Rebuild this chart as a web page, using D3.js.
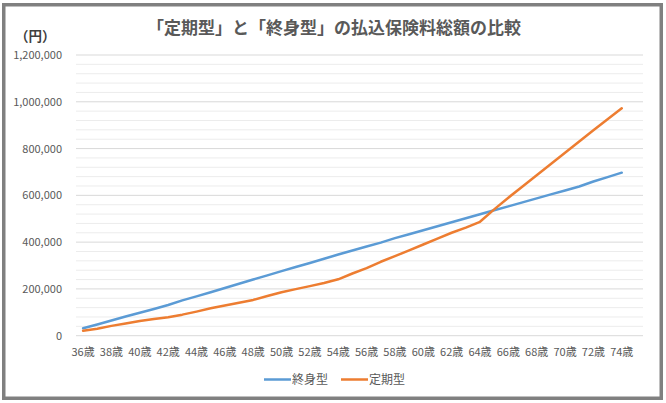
<!DOCTYPE html>
<html>
<head>
<meta charset="utf-8">
<script src="https://cdn.jsdelivr.net/npm/d3@7"></script>
<style>
  body { margin: 0; background: #fff; }
  text { font-family: "Noto Sans CJK JP", "Noto Sans", sans-serif; }
</style>
</head>
<body>
<div id="chart"></div>
<script>
const width = 666;
const height = 403;

// categories (75歳 is an empty slot, Excel kept it on the axis)
const ages = ["36歳","37歳","38歳","39歳","40歳","41歳","42歳","43歳","44歳","45歳",
  "46歳","47歳","48歳","49歳","50歳","51歳","52歳","53歳","54歳","55歳",
  "56歳","57歳","58歳","59歳","60歳","61歳","62歳","63歳","64歳","65歳",
  "66歳","67歳","68歳","69歳","70歳","71歳","72歳","73歳","74歳","75歳"];

// 終身型 (whole life)
const shushin = [32000, 48000, 65000, 82000, 98000, 114000, 131000, 151000, 168000, 186000,
  204000, 222000, 240000, 258000, 276000, 294000, 311000, 329000, 347000, 364000,
  381000, 398000, 417000, 434000, 451000, 468000, 485000, 502000, 519000, 536000,
  553000, 570000, 587000, 604000, 621000, 638000, 659000, 678000, 697000];

// 定期型 (term)
const teiki = [21000, 30000, 42000, 52000, 63000, 71000, 79000, 90000, 103000, 117000,
  129000, 141000, 153000, 170000, 186000, 199000, 212000, 225000, 241000, 266000,
  289000, 316000, 340000, 365000, 390000, 415000, 440000, 462000, 487000, 540000,
  590000, 638000, 686000, 734000, 782000, 830000, 878000, 925000, 972000];

const yTicks = [0, 200000, 400000, 600000, 800000, 1000000, 1200000];
const yMinor = [40000, 80000, 120000, 160000, 240000, 280000, 320000, 360000,
  440000, 480000, 520000, 560000, 640000, 680000, 720000, 760000,
  840000, 880000, 920000, 960000, 1040000, 1080000, 1120000, 1160000];

const series = [
  { name: "終身型", values: shushin, color: "#5B9BD5" },
  { name: "定期型", values: teiki, color: "#ED7D31" }
];

const svg = d3.select("#chart").append("svg").attr("width", width).attr("height", height);

// frame
svg.append("rect")
  .attr("x", 3.75).attr("y", 4.75)
  .attr("width", 657.5).attr("height", 393.5)
  .attr("fill", "#fff")
  .attr("stroke", "#808080")
  .attr("stroke-width", 3.5);

const plotLeft = 76, plotRight = 643, plotTop = 55, plotBottom = 335.7;

const x = d3.scaleBand().domain(ages).range([plotLeft, plotRight]).padding(0);
const y = d3.scaleLinear().domain([0, 1200000]).range([plotBottom, plotTop]);

// minor gridlines
svg.append("g").selectAll("line").data(yMinor).join("line")
  .attr("x1", plotLeft).attr("x2", plotRight)
  .attr("y1", d => y(d)).attr("y2", d => y(d))
  .attr("stroke", "#ececec").attr("stroke-width", 1);

// major gridlines
svg.append("g").selectAll("line").data(yTicks).join("line")
  .attr("x1", plotLeft).attr("x2", plotRight)
  .attr("y1", d => y(d)).attr("y2", d => y(d))
  .attr("stroke", "#d9d9d9").attr("stroke-width", 1);

// y axis labels
const yAxis = svg.append("g")
  .attr("transform", `translate(${plotLeft - 14},0)`)
  .call(d3.axisLeft(y).tickValues(yTicks).tickSize(0).tickFormat(d3.format(",")));
yAxis.select(".domain").remove();
yAxis.selectAll("text")
  .attr("x", 0)
  .style("font-size", "11px")
  .style("fill", "#595959")
  .style("font-family", "'Noto Sans CJK JP', sans-serif");

// x axis labels, every second age
const xAxis = svg.append("g")
  .attr("transform", `translate(0,${plotBottom + 9})`)
  .call(d3.axisBottom(x).tickValues(ages.filter((d, i) => i % 2 === 0 && i < 39)).tickSize(0));
xAxis.select(".domain").remove();
xAxis.selectAll("text")
  .style("font-size", "11px")
  .style("fill", "#595959")
  .style("font-family", "'Noto Sans CJK JP', sans-serif");

// lines
const line = d3.line()
  .x((d, i) => x(ages[i]) + x.bandwidth() / 2)
  .y(d => y(d));

series.forEach(s => {
  svg.append("path")
    .datum(s.values)
    .attr("d", line)
    .attr("fill", "none")
    .attr("stroke", s.color)
    .attr("stroke-width", 2.5)
    .attr("stroke-linejoin", "round")
    .attr("stroke-linecap", "round");
});

// title
svg.append("text")
  .attr("x", 334).attr("y", 34)
  .attr("text-anchor", "middle")
  .style("font-size", "17px")
  .style("font-weight", "bold")
  .style("fill", "#595959")
  .text("「定期型」と「終身型」の払込保険料総額の比較");

// unit
svg.append("text")
  .attr("x", 15).attr("y", 41)
  .style("font-size", "13.5px")
  .style("font-weight", "bold")
  .style("fill", "#404040")
  .text("（円）");

// legend
const legendX = [264, 341];
series.forEach((s, i) => {
  svg.append("line")
    .attr("x1", legendX[i]).attr("x2", legendX[i] + 27)
    .attr("y1", 379.5).attr("y2", 379.5)
    .attr("stroke", s.color).attr("stroke-width", 2.5);
  svg.append("text")
    .attr("x", legendX[i] + 28).attr("y", 384)
    .style("font-size", "12px")
    .style("fill", "#595959")
    .text(s.name);
});
</script>
</body>
</html>
